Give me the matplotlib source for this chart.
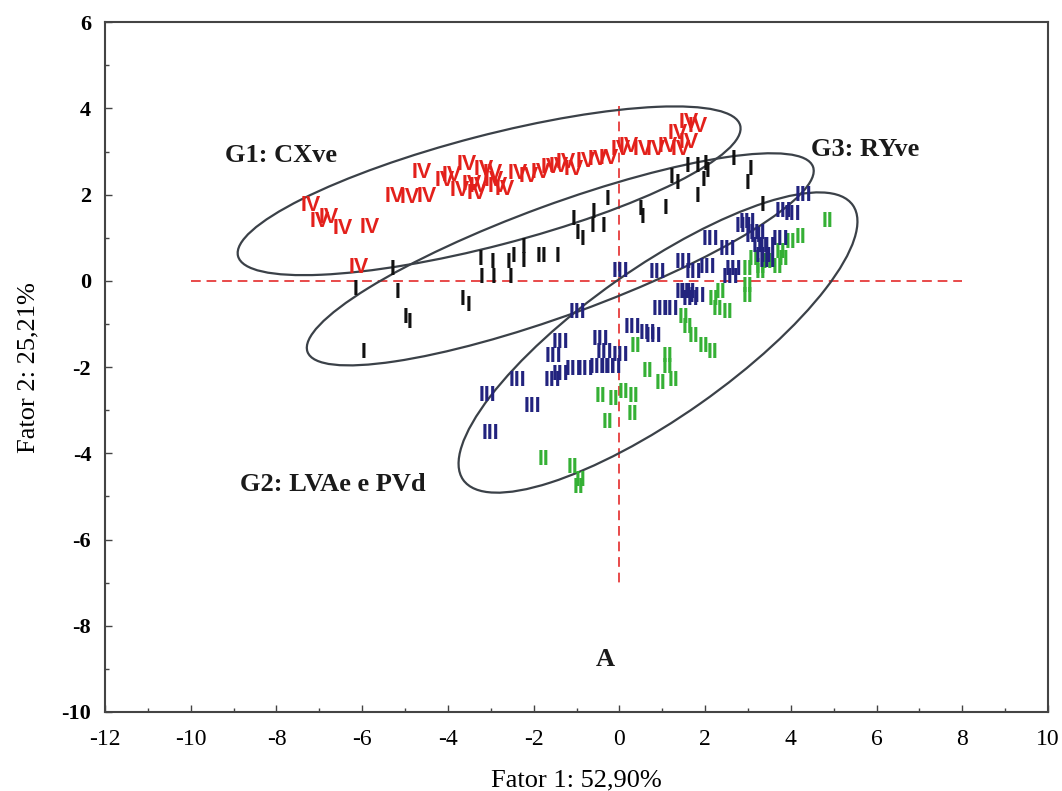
import matplotlib
matplotlib.use("Agg")
import matplotlib.pyplot as plt
from matplotlib.patches import Ellipse
import numpy as np

plt.rcParams["axes.unicode_minus"] = False

# scores on factor 1 (x) and factor 2 (y)

# I  (black, RYve)
x_I = [-6.16, -5.30, -5.18, -4.99, -4.90, -5.97, -3.66, -3.52, -3.24, -3.22,
       -2.96, -2.94, -2.59, -2.54, -2.47, -2.24, -2.24, -1.89, -1.77, -1.45,
       -1.07, -0.98, -0.86, -0.63, -0.61, -0.37, -0.28, 0.49, 0.54, 1.07,
       1.21, 1.35, 1.59, 1.82, 1.82, 2.01, 2.05, 1.96, 2.66, 2.99, 3.06, 3.34]
y_I = [-0.21, 0.26, -0.28, -0.86, -0.97, -1.67, -0.44, -0.56, 0.49, 0.07,
       0.42, 0.09, 0.42, 0.09, 0.56, 0.77, 0.44, 0.56, 0.56, 0.56,
       1.42, 1.11, 0.95, 1.25, 1.58, 1.25, 1.88, 1.65, 1.48, 1.67,
       2.39, 2.27, 2.65, 2.65, 1.95, 2.71, 2.53, 2.34, 2.81, 2.27, 2.58, 1.76]

# II (green)
x_II = [4.85, 4.22, 3.99, 3.76, 3.83, 3.69, 3.45, 3.29, 3.13, 3.29,
        2.99, 2.99, 2.99, 2.36, 2.19, 2.29, 2.52, 1.49, 1.59, 1.73,
        1.96, 2.17, 1.12, 1.12, 0.65, 0.96, 1.26, 0.37, -0.44, -0.14,
        0.09, 0.33, -0.28, 0.30, -1.77, -1.10, -0.91, -0.96]
y_II = [1.37, 1.00, 0.88, 0.65, 0.49, 0.32, 0.42, 0.32, 0.49, 0.19,
        0.26, -0.14, -0.37, -0.28, -0.44, -0.67, -0.74, -0.84, -1.07, -1.30,
        -1.53, -1.65, -1.76, -2.00, -2.11, -2.37, -2.30, -1.53, -2.69, -2.76,
        -2.60, -2.69, -3.29, -3.11, -4.15, -4.32, -4.62, -4.80]

# III (blue)
x_III = [0.02, 0.89, 1.49, 1.73, 1.49, 1.82, 0.96, 1.19, 0.30, 0.65,
         2.12, 2.05, 2.52, 2.66, 2.59, 2.89, 3.13, 3.29, 3.45, 3.45,
         3.76, 3.83, 4.04, 4.29, -0.98, -1.38, -1.54, -0.44, -0.35, 0.02,
         -0.14, -2.38, -1.56, -1.38, -1.07, -0.79, -0.51, -0.28, -3.08, -2.03,
         -3.01, 0.79, 1.66, 1.59, 2.99, 3.22, 3.36]
y_III = [0.21, 0.19, 0.42, 0.19, -0.28, -0.37, -0.67, -0.67, -1.07, -1.21,
         0.95, 0.32, 0.72, 0.26, 0.09, 1.25, 1.02, 0.79, 0.79, 0.44,
         0.95, 1.60, 1.53, 1.97, -0.74, -1.44, -1.76, -1.37, -1.67, -1.72,
         -2.00, -2.30, -2.30, -2.18, -2.06, -2.06, -2.00, -2.00, -2.65, -2.92,
         -3.53, -1.30, -0.44, -0.26, 1.35, 1.11, 0.56]

# IV (red, CXve)
x_IV = [-7.21, -6.98, -6.79, -6.46, -5.83, -6.07, -4.62, -5.25, -4.90, -4.50,
        -4.08, -3.90, -3.57, -3.73, -3.45, -3.17, -2.96, -3.34, -2.85, -2.68,
        -3.29, -2.94, -2.38, -2.12, -1.84, -1.61, -1.42, -1.26, -1.07, -0.79,
        -0.51, -0.26, 0.02, 0.21, 0.54, 0.84, 1.12, 1.42, 1.35, 1.61,
        1.82, 1.61]
y_IV = [1.76, 1.37, 1.46, 1.21, 1.23, 0.30, 2.51, 1.95, 1.93, 1.95,
        2.32, 2.44, 2.71, 2.09, 2.23, 2.58, 2.48, 2.02, 2.18, 2.11,
        2.18, 2.32, 2.48, 2.41, 2.51, 2.62, 2.65, 2.74, 2.58, 2.76,
        2.81, 2.85, 3.04, 3.11, 3.04, 3.04, 3.11, 3.04, 3.43, 3.20,
        3.57, 3.67]

groups = [("I", x_I, y_I, "#111111"),
          ("II", x_II, y_II, "#35b035"),
          ("III", x_III, y_III, "#22237e"),
          ("IV", x_IV, y_IV, "#e3201b")]

# ellipses: centre x, centre y, width, height, angle
ell_G1 = (-3.04, 2.09, 12.1, 2.56, 14.5)
ell_G3 = (-1.38, 0.50, 12.55, 2.56, 20.0)
ell_G2 = (0.90, -1.43, 11.1, 3.45, 35.0)

fig = plt.figure(figsize=(10.62, 7.91), dpi=100)
ax = fig.add_axes([0.0989, 0.0999, 0.888, 0.872])
ax.set_xlim(-12, 10)
ax.set_ylim(-10, 6)

# reference lines
ax.plot([-10, 8], [0, 0], color="#e84a4a", ls=(0, (5, 3)), lw=1.4, zorder=1)
ax.plot([0, 0], [4.05, -7], color="#e84a4a", ls=(0, (5, 3)), lw=1.4, zorder=1)

for lab, xs, ys, col in groups:
    for xx, yy in zip(xs, ys):
        ax.text(xx, yy, lab, color=col, fontsize=15.5, fontweight="bold",
                ha="center", va="center", family="Liberation Sans", zorder=3)

for cx, cy, w, h, ang in [ell_G1, ell_G3, ell_G2]:
    ax.add_patch(Ellipse((cx, cy), w, h, angle=ang, fill=False,
                         ec="#3b4148", lw=1.6, zorder=2))

lab_font = dict(family="Liberation Serif", fontweight="bold", fontsize=19, color="#1a1a1a")
ax.text(-9.19, 2.92, "G1: CXve", ha="left", va="center", **lab_font)
ax.text(4.46, 3.04, "G3: RYve", ha="left", va="center", **lab_font)
ax.text(-8.84, -4.73, "G2: LVAe e PVd", ha="left", va="center", **lab_font)
ax.text(-0.33, -8.79, "A", ha="center", va="center", **lab_font)

ax.set_xticks(np.arange(-12, 11, 2))
ax.set_yticks(np.arange(-10, 7, 2))
ax.set_xticks(np.arange(-12, 11, 1), minor=True)
ax.set_yticks(np.arange(-10, 7, 1), minor=True)
ax.tick_params(which="both", direction="in", top=False, right=False, color="#444444")
ax.tick_params(which="major", length=5, width=1)
ax.tick_params(which="minor", length=3, width=1)
ax.tick_params(axis="x", pad=12)
ax.tick_params(axis="y", pad=10)
for t in ax.get_xticklabels():
    t.set_fontfamily("Liberation Serif")
    t.set_fontsize(17)
for t in ax.get_yticklabels():
    t.set_fontfamily("Liberation Serif")
    t.set_fontweight("bold")
    t.set_fontsize(16)
for s in ax.spines.values():
    s.set_color("#444444")
    s.set_linewidth(1.5)

ax.set_xlabel("Fator 1: 52,90%", family="Liberation Serif", fontsize=19, labelpad=14)
ax.set_ylabel("Fator 2: 25,21%", family="Liberation Serif", fontsize=19, labelpad=16)

plt.savefig("out.png", dpi=100)
